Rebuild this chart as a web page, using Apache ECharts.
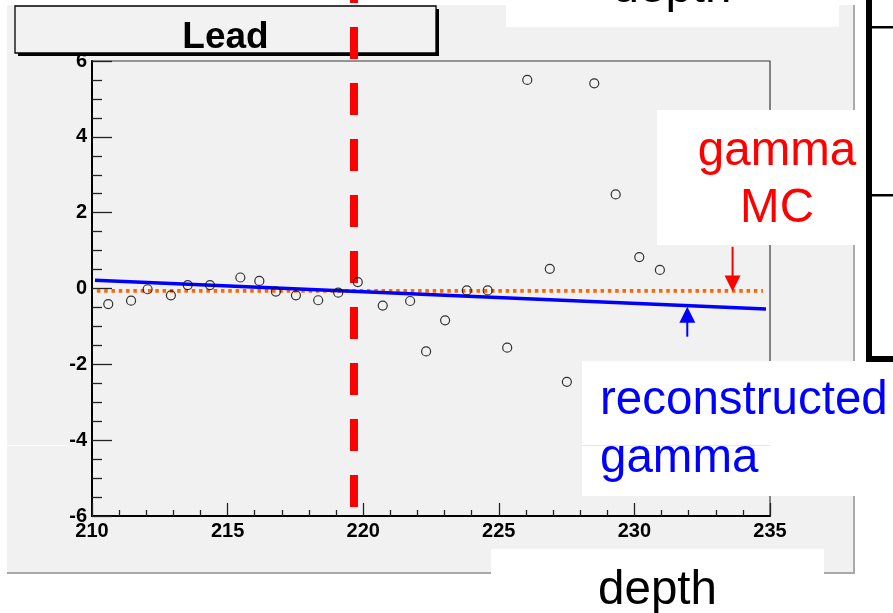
<!DOCTYPE html>
<html>
<head>
<meta charset="utf-8">
<script src="https://cdn.jsdelivr.net/npm/echarts@6/dist/echarts.min.js"></script>
<style>
  html, body { margin: 0; padding: 0; background: #ffffff; }
  #chart { width: 893px; height: 613px; }
</style>
</head>
<body>
<div id="chart"></div>
<script>
// Residual per layer versus shower depth (Lead)
const depth = [210.60, 211.44, 212.05, 212.91, 213.53, 214.35, 215.47, 216.17, 216.78,
               217.52, 218.34, 219.08, 219.80, 220.72, 221.73, 222.32, 223.02, 223.82,
               224.59, 225.31, 226.05, 226.88, 227.51, 228.52, 229.31, 230.18, 230.94];
const residual = [-0.41, -0.32, -0.02, -0.18, 0.09, 0.09, 0.29, 0.20, -0.08,
                  -0.18, -0.31, -0.11, 0.17, -0.45, -0.33, -1.66, -0.84, -0.05,
                  -0.05, -1.56, 5.50, 0.52, -2.46, 5.41, 2.48, 0.83, 0.49];

// Straight-line fits: reconstructed gamma and gamma MC
const recoFitDepth = [210.11, 234.85];
const recoFitValue = [0.22, -0.54];
const mcFitDepth = [210.18, 234.74];
const mcFitValue = [-0.06, -0.06];

// Layer boundary (dashed red), drawn across the whole pad
const boundaryDepth = 219.66;
const boundaryRange = [8.375, -5.77];

// Axis ranges and tick steps
const xRange = [210, 235];
const xStep = 5;
const yRange = [-6, 6];
const yStep = 2;

// Arrows pointing at the fit lines (depth, from, to)
const mcArrow = [233.62, 1.10, -0.08];
const recoArrow = [231.95, -1.27, -0.48];

const FONT = '"Liberation Sans", Arial, Helvetica, sans-serif';
const zip = (a, b) => a.map((v, i) => [v, b[i]]);

const chart = echarts.init(document.getElementById('chart'), null, { renderer: 'canvas' });

const axisCommon = {
  type: 'value',
  axisLine: { onZero: false, lineStyle: { color: '#000000', width: 2 } },
  splitLine: { show: false },
  axisLabel: {
    fontFamily: FONT, fontWeight: 'bold', fontSize: 20, color: '#000000',
    showMinLabel: true, showMaxLabel: true
  }
};

chart.setOption({
  animation: false,
  backgroundColor: '#ffffff',
  grid: {
    left: 92, top: 61, right: 123, bottom: 97,
    show: true, backgroundColor: 'transparent',
    borderColor: '#3a3a3a', borderWidth: 1.2
  },
  xAxis: Object.assign({}, axisCommon, {
    min: xRange[0], max: xRange[1], interval: xStep,
    axisTick: { inside: true, length: 13, lineStyle: { color: '#222222', width: 1.3 } },
    minorTick: { show: true, splitNumber: 5, length: 6, lineStyle: { color: '#222222', width: 1.3 } },
    axisLabel: Object.assign({}, axisCommon.axisLabel, { margin: 5 })
  }),
  yAxis: Object.assign({}, axisCommon, {
    min: yRange[0], max: yRange[1], interval: yStep,
    axisTick: { inside: true, length: 20, lineStyle: { color: '#222222', width: 1.3 } },
    minorTick: { show: true, splitNumber: 4, length: 10, lineStyle: { color: '#222222', width: 1.3 } },
    axisLabel: Object.assign({}, axisCommon.axisLabel, { margin: 5 })
  }),
  series: [
    {
      name: 'gamma MC',
      type: 'line',
      data: zip(mcFitDepth, mcFitValue),
      symbol: 'none',
      silent: true,
      z: 3,
      lineStyle: { color: '#ff6600', width: 3.8, type: [3.5, 3.8] }
    },
    {
      name: 'reconstructed gamma',
      type: 'line',
      data: zip(recoFitDepth, recoFitValue),
      symbol: 'none',
      silent: true,
      z: 4,
      lineStyle: { color: '#0000ff', width: 3.5 }
    },
    {
      name: 'boundary',
      type: 'line',
      data: [[boundaryDepth, boundaryRange[0]], [boundaryDepth, boundaryRange[1]]],
      symbol: 'none',
      silent: true,
      clip: false,
      z: 5,
      lineStyle: { color: '#ff0000', width: 8, type: [32, 24], cap: 'butt' }
    },
    {
      name: 'residual',
      type: 'scatter',
      data: zip(depth, residual),
      symbol: 'circle',
      symbolSize: 9,
      z: 6,
      itemStyle: { color: 'rgba(0,0,0,0)', borderColor: '#000000', borderWidth: 1.2 }
    }
  ]
});

// Arrow built from data coordinates
function arrow(spec, color) {
  const tail = chart.convertToPixel({ gridIndex: 0 }, [spec[0], spec[1]]);
  const tip = chart.convertToPixel({ gridIndex: 0 }, [spec[0], spec[2]]);
  const dir = tip[1] > tail[1] ? 1 : -1;
  const head = 16, half = 8;
  const base = tip[1] - dir * head;
  return [
    { type: 'line', z: 8, silent: true,
      shape: { x1: tail[0], y1: tail[1], x2: tip[0], y2: base + dir * 1 },
      style: { stroke: color, lineWidth: 2 } },
    { type: 'polygon', z: 8, silent: true,
      shape: { points: [[tip[0], tip[1]], [tip[0] - half, base], [tip[0] + half, base]] },
      style: { fill: color } }
  ];
}

function label(text, x, y, size, color, align, weight) {
  return { type: 'text', z: 12, silent: true, x: x, y: y,
    style: { text: text, fill: color, font: (weight || 'normal') + ' ' + size + 'px ' + FONT,
             align: align || 'center', verticalAlign: 'middle' } };
}

function box(x, y, w, h, fill, z) {
  return { type: 'rect', z: z, silent: true, shape: { x: x, y: y, width: w, height: h },
           style: { fill: fill } };
}

const graphics = [
  // pad
  box(7, 5, 848, 569, '#f1f1f1', -1),
  box(853, 5, 2, 569, '#a9a9a9', -1),
  box(7, 572, 848, 2, '#a9a9a9', -1),
  box(7, 445, 61, 1, '#ffffff', -1),
  // title box with drop shadow
  box(436, 9, 3, 47, '#000000', 1),
  box(18, 53, 421, 3, '#000000', 1),
  { type: 'rect', z: 1, silent: true, shape: { x: 15, y: 6, width: 421, height: 47 },
    style: { fill: '#f2f2f2', stroke: '#000000', lineWidth: 1.3 } },
  label('Lead', 225.5, 37.5, 37, '#000000', 'center', 'bold'),
  // caption boxes
  box(506, 0, 333, 27, '#ffffff', 10),
  label('depth', 672, -11, 47.5, '#000000'),
  box(657, 110, 205, 135, '#ffffff', 10),
  label('gamma', 777, 152, 47.5, '#ff0000'),
  label('MC', 777, 209, 47.5, '#ff0000'),
  box(582, 361, 280, 135, '#ffffff', 10),
  box(582, 445, 188, 1, '#e6e6e6', 11),
  label('reconstructed', 600, 401, 47.5, '#0000ff', 'left'),
  label('gamma', 600, 459, 47.5, '#0000ff', 'left'),
  box(491, 549, 333, 64, '#ffffff', 10),
  label('depth', 657.5, 591, 47.5, '#000000'),
  // frame on the right
  box(866, 0, 6, 362, '#000000', 10),
  box(866, 356, 27, 6, '#000000', 10),
  box(872, 26, 21, 2.5, '#000000', 10),
  box(872, 194, 21, 2.5, '#000000', 10)
].concat(arrow(mcArrow, '#ff0000'), arrow(recoArrow, '#0000ff'));

chart.setOption({ graphic: graphics });
</script>
</body>
</html>
